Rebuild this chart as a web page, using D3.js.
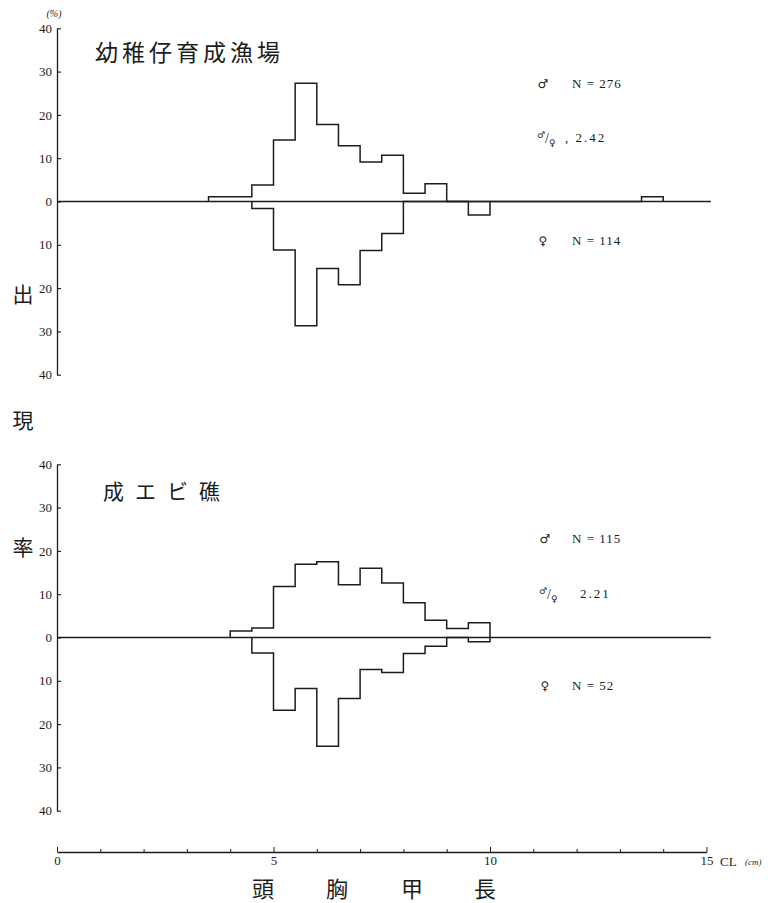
<!DOCTYPE html>
<html>
<head>
<meta charset="utf-8">
<script src="https://cdn.jsdelivr.net/npm/d3@7"></script>
<style>
body { margin: 0; background: #fff; }
svg { display: block; }
</style>
</head>
<body>
<script>
// carapace length classes, lower edge in cm (each class 0.5 cm wide)
var classes = [3.5, 4.0, 4.5, 5.0, 5.5, 6.0, 6.5, 7.0, 7.5, 8.0, 8.5, 9.0, 9.5, 10.0, 10.5, 11.0, 11.5, 12.0, 12.5, 13.0, 13.5];
var classWidth = 0.5;

// 幼稚仔育成漁場 (%)
var nurseryMale   = [1.1, 1.1, 3.8, 14.2, 27.3, 17.8, 12.9, 9.1, 10.7, 1.9, 4.1, 0, 0, 0, 0, 0, 0, 0, 0, 0, 1.1];
var nurseryFemale = [0, 0, 1.6, 11.2, 28.7, 15.5, 19.2, 11.3, 7.4, 0, 0, 0, 3.1, 0, 0, 0, 0, 0, 0, 0, 0];
// 成エビ礁 (%)
var reefMale   = [0, 1.5, 2.2, 11.8, 16.9, 17.5, 12.2, 16.0, 12.6, 8.0, 4.0, 2.1, 3.4, 0, 0, 0, 0, 0, 0, 0, 0];
var reefFemale = [0, 0, 3.6, 16.8, 11.8, 25.1, 14.1, 7.4, 8.1, 3.7, 2.0, 0, 1.0, 0, 0, 0, 0, 0, 0, 0, 0];

var panelTitles = ["幼稚仔育成漁場", "成エビ礁"];
var maleN = ["N = 276", "N = 115"];
var femaleN = ["N = 114", "N = 52"];
var sexRatio = [", 2.42", "2.21"];
var yTicks = [-40, -30, -20, -10, 0, 10, 20, 30, 40];
var xTicks = [0, 1, 2, 3, 4, 5, 6, 7, 8, 9, 10, 11, 12, 13, 14, 15];
var yTitle = ["出", "現", "率"];
var xTitle = ["頭", "胸", "甲", "長"];

var W = 771, H = 903;
var ink = "#1c1c1c";
var serif = "'Liberation Serif', 'DejaVu Serif', serif";
var jp = "'Noto Sans CJK JP', sans-serif";
var symFont = "'DejaVu Sans', sans-serif";

var svg = d3.select("body").append("svg")
	.attr("width", W)
	.attr("height", H)
	.style("background", "#fff");

var x = d3.scaleLinear().domain([0, 15]).range([57, 706.5]);

var panels = [
	{ zero: 201.5, title: panelTitles[0], male: nurseryMale, female: nurseryFemale, nm: maleN[0], nf: femaleN[0], ratio: sexRatio[0],
	  titleX: 95, titleY: 61, titleSize: 23, titleSpacing: 4, noteX: 543, noteM: 88, noteR: 142, noteF: 245, ratioX: 565 },
	{ zero: 637.5, title: panelTitles[1], male: reefMale, female: reefFemale, nm: maleN[1], nf: femaleN[1], ratio: sexRatio[1],
	  titleX: 103, titleY: 499, titleSize: 21, titleSpacing: 11, noteX: 545, noteM: 543, noteR: 598, noteF: 690, ratioX: 580 }
];

function stepPoints(vals, sign) {
	var idx = [];
	vals.forEach(function(v, i) { if (v > 0) idx.push(i); });
	var first = idx[0], last = idx[idx.length - 1];
	var pts = [[classes[first], 0]];
	for (var i = first; i <= last; i++) {
		pts.push([classes[i], sign * vals[i]]);
		pts.push([classes[i] + classWidth, sign * vals[i]]);
	}
	pts.push([classes[last] + classWidth, 0]);
	return pts;
}

panels.forEach(function(p) {
	var y = d3.scaleLinear().domain([-40, 40]).range([p.zero + 173.2, p.zero - 173.2]);
	var g = svg.append("g");

	// y axis, ticks pointing inward
	var ax = g.append("g")
		.attr("transform", "translate(" + x(0) + ",0)")
		.call(d3.axisLeft(y)
			.tickValues(yTicks)
			.tickSize(-4)
			.tickSizeOuter(0)
			.tickPadding(5)
			.tickFormat(function(d) { return Math.abs(d); }));
	ax.select(".domain").attr("stroke", ink).attr("stroke-width", 1.3);
	ax.selectAll(".tick line").attr("stroke", ink).attr("stroke-width", 1.1);
	ax.selectAll(".tick text")
		.attr("fill", ink)
		.style("font-family", serif)
		.style("font-size", "13px");

	// zero line
	g.append("line")
		.attr("x1", x(0)).attr("x2", x(15.1))
		.attr("y1", y(0)).attr("y2", y(0))
		.attr("stroke", ink).attr("stroke-width", 1.6);

	var line = d3.line()
		.x(function(d) { return x(d[0]); })
		.y(function(d) { return y(d[1]); });

	g.append("path")
		.attr("d", line(stepPoints(p.male, 1)))
		.attr("fill", "none").attr("stroke", ink).attr("stroke-width", 1.5);
	g.append("path")
		.attr("d", line(stepPoints(p.female, -1)))
		.attr("fill", "none").attr("stroke", ink).attr("stroke-width", 1.5);

	g.append("text")
		.attr("x", p.titleX).attr("y", p.titleY)
		.attr("fill", ink)
		.style("font-family", jp)
		.style("font-size", p.titleSize + "px")
		.style("letter-spacing", p.titleSpacing + "px")
		.text(p.title);

	// notes on the right
	g.append("text").attr("x", p.noteX).attr("y", p.noteM).attr("text-anchor", "middle")
		.attr("fill", ink).style("font-family", symFont).style("font-size", "12px").text("♂");
	g.append("text").attr("x", 572).attr("y", p.noteM)
		.attr("fill", ink).style("font-family", serif).style("font-size", "13px")
		.style("letter-spacing", "1px").style("white-space", "pre").text(p.nm);

	// ♂/♀ ratio mark: raised ♂, slash, lowered ♀
	var r = g.append("text")
		.attr("x", p.noteX - 6).attr("y", p.noteR)
		.attr("fill", ink)
		.style("font-family", symFont);
	r.append("tspan").attr("dy", -4).style("font-size", "9px").text("♂");
	r.append("tspan").attr("dy", 5).style("font-family", serif).style("font-size", "14px").text("/");
	r.append("tspan").attr("dy", 3).style("font-size", "9px").text("♀");

	g.append("text").attr("x", p.ratioX).attr("y", p.noteR)
		.attr("fill", ink).style("font-family", serif).style("font-size", "13px")
		.style("letter-spacing", "2px").style("white-space", "pre").text(p.ratio);

	g.append("text").attr("x", p.noteX).attr("y", p.noteF).attr("text-anchor", "middle")
		.attr("fill", ink).style("font-family", symFont).style("font-size", "12px").text("♀");
	g.append("text").attr("x", 572).attr("y", p.noteF)
		.attr("fill", ink).style("font-family", serif).style("font-size", "13px")
		.style("letter-spacing", "1px").style("white-space", "pre").text(p.nf);
});

// (%) unit above the top axis
svg.append("text")
	.attr("x", 54).attr("y", 17).attr("text-anchor", "middle")
	.attr("fill", ink)
	.style("font-family", serif).style("font-style", "italic").style("font-size", "10px")
	.text("(%)");

// vertical title 出現率
svg.selectAll(".ytitle")
	.data(yTitle)
	.enter().append("text")
		.attr("class", "ytitle")
		.attr("x", 23)
		.attr("y", function(d, i) { return [302, 428, 555][i]; })
		.attr("text-anchor", "middle")
		.attr("fill", ink)
		.style("font-family", jp)
		.style("font-size", "21px")
		.text(function(d) { return d; });

// x axis at the bottom
var xAxisY = 852;
var xa = svg.append("g")
	.attr("transform", "translate(0," + xAxisY + ")")
	.call(d3.axisBottom(x)
		.tickValues(xTicks)
		.tickSize(-3)
		.tickSizeOuter(0)
		.tickPadding(4)
		.tickFormat(function(d) { return d % 5 === 0 ? d : ""; }));
xa.select(".domain").attr("stroke", ink).attr("stroke-width", 1.6);
xa.selectAll(".tick line")
	.attr("stroke", ink)
	.attr("y2", function(d) { return d % 5 === 0 ? -5 : -3; });
xa.selectAll(".tick text")
	.attr("fill", ink)
	.style("font-family", serif)
	.style("font-size", "13px");

svg.append("text")
	.attr("x", 720).attr("y", xAxisY + 14)
	.attr("fill", ink).style("font-family", serif).style("font-size", "13px")
	.text("CL");
svg.append("text")
	.attr("x", 745).attr("y", xAxisY + 13)
	.attr("fill", ink).style("font-family", serif).style("font-style", "italic").style("font-size", "9px")
	.text("(cm)");

svg.selectAll(".xtitle")
	.data(xTitle)
	.enter().append("text")
		.attr("class", "xtitle")
		.attr("x", function(d, i) { return [263, 337, 412, 485][i]; })
		.attr("y", 897)
		.attr("text-anchor", "middle")
		.attr("fill", ink)
		.style("font-family", jp)
		.style("font-size", "22px")
		.text(function(d) { return d; });
</script>
</body>
</html>
